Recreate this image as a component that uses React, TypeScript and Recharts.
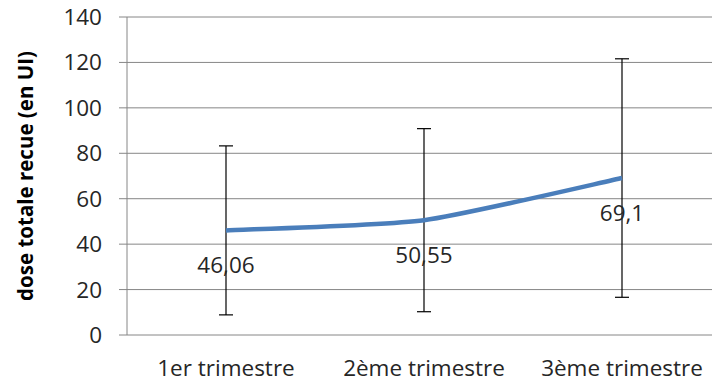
import {
  CartesianGrid,
  ErrorBar,
  LabelList,
  Line,
  LineChart,
  XAxis,
  YAxis,
} from "recharts";

const categories = ["1er trimestre", "2ème trimestre", "3ème trimestre"];
const doses = [46.06, 50.55, 69.1];
const spread = [37.2, 40.3, 52.5];
const yTicks = [0, 20, 40, 60, 80, 100, 120, 140];
const boundaryTicks = [0, 1, 2, 3];

const FONT = "'Open Sans', sans-serif";
const GRAY = "#868686";
const TEXT = "#262626";

const data = categories.map((name, i) => ({
  name,
  dose: doses[i],
  err: spread[i],
}));

const fmt = (v: unknown) =>
  typeof v === "number" ? String(v).replace(".", ",") : String(v ?? "");

// Excel-style smoothed line: light cardinal spline through the points.
function smoothCurve(context: any) {
  let pts: [number, number][] = [];
  return {
    areaStart() {},
    areaEnd() {},
    lineStart() {
      pts = [];
    },
    point(x: number, y: number) {
      pts.push([+x, +y]);
    },
    lineEnd() {
      if (!pts.length) return;
      context.moveTo(pts[0][0], pts[0][1]);
      const k = 1 / 10;
      for (let i = 0; i < pts.length - 1; i++) {
        const p0 = pts[i - 1] ?? pts[i];
        const p1 = pts[i];
        const p2 = pts[i + 1];
        const p3 = pts[i + 2] ?? pts[i + 1];
        context.bezierCurveTo(
          p1[0] + (p2[0] - p0[0]) * k,
          p1[1] + (p2[1] - p0[1]) * k,
          p2[0] - (p3[0] - p1[0]) * k,
          p2[1] - (p3[1] - p1[1]) * k,
          p2[0],
          p2[1]
        );
      }
    },
  };
}

function AxisTitle(props: any) {
  const vb = props.viewBox ?? { x: 0, y: 0, width: 0, height: 0 };
  const cx = vb.x + 25;
  const cy = vb.y + vb.height / 2;
  return (
    <text
      x={cx}
      y={cy}
      transform={`rotate(-90 ${cx} ${cy})`}
      textAnchor="middle"
      dominantBaseline="central"
      fill="#000"
      fontFamily={FONT}
      fontSize={20.5}
      fontWeight={700}
    >
      dose totale recue (en UI)
    </text>
  );
}

export default function App() {
  return (
    <div
      style={{
        position: "absolute",
        left: 0,
        top: 0,
        width: 712,
        height: 383,
        overflow: "hidden",
        background: "#fff",
      }}
    >
      <LineChart
        width={730}
        height={383}
        data={data}
        margin={{ top: 17, right: 9, left: 0, bottom: 0 }}
      >
        <CartesianGrid stroke={GRAY} vertical={false} />
        <XAxis
          dataKey="name"
          scale="band"
          axisLine={false}
          tickLine={false}
          tick={{ fill: TEXT, fontSize: 22.5, fontFamily: FONT }}
          tickMargin={19}
          height={48}
        />
        <XAxis
          xAxisId="edges"
          type="number"
          domain={[0, 3]}
          ticks={boundaryTicks}
          axisLine={{ stroke: GRAY }}
          tickLine={{ stroke: GRAY }}
          tickSize={9}
          tick={false}
          height={0}
        />
        <YAxis
          domain={[0, 140]}
          ticks={yTicks}
          interval={0}
          width={127}
          axisLine={{ stroke: GRAY }}
          tickLine={{ stroke: GRAY }}
          tickSize={8}
          tickMargin={17}
          tick={{ fill: TEXT, fontSize: 22.5, fontFamily: FONT }}
          label={{ content: AxisTitle }}
        />
        <Line
          dataKey="dose"
          type={smoothCurve as any}
          stroke="#4A7EBB"
          strokeWidth={4.5}
          dot={false}
          activeDot={false}
          isAnimationActive={false}
        >
          <ErrorBar
            dataKey="err"
            direction="y"
            width={7}
            stroke="#000"
            strokeWidth={1.2}
            isAnimationActive={false}
          />
          <LabelList
            dataKey="dose"
            position="bottom"
            offset={27}
            formatter={fmt}
            style={{ fill: TEXT, fontSize: 22.5, fontFamily: FONT }}
          />
        </Line>
      </LineChart>
    </div>
  );
}
